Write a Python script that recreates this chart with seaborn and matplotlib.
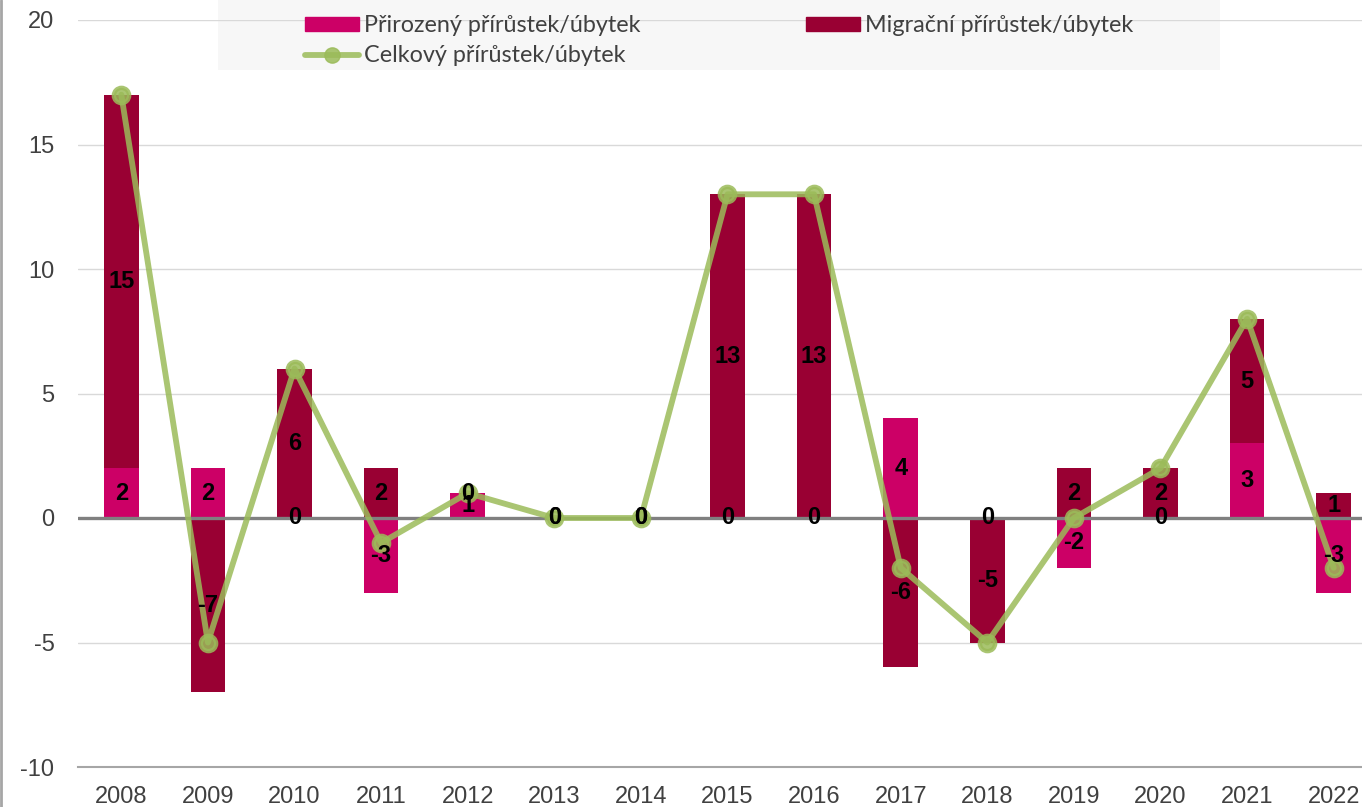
import numpy as np
import pandas as pd
import seaborn as sns
import matplotlib
matplotlib.use("Agg")
from matplotlib import pyplot as plt
from matplotlib.patches import Rectangle, Patch
from matplotlib.lines import Line2D

years = ['2008', '2009', '2010', '2011', '2012', '2013', '2014', '2015',
         '2016', '2017', '2018', '2019', '2020', '2021', '2022']
prirozeny = [2, 2, 0, -3, 1, 0, 0, 0, 0, 4, 0, -2, 0, 3, -3]
migracni = [15, -7, 6, 2, 0, 0, 0, 13, 13, -6, -5, 2, 2, 5, 1]
celkovy = [17, -5, 6, -1, 1, 0, 0, 13, 13, -2, -5, 0, 2, 8, -2]

lbl_prir = 'Přirozený přírůstek/úbytek'
lbl_migr = 'Migrační přírůstek/úbytek'
lbl_celk = 'Celkový přírůstek/úbytek'

c_pink = '#CC0066'
c_dark = '#990033'
c_green = '#9BBB59'

df = pd.DataFrame({'rok': years, 'prir': prirozeny, 'migr': migracni, 'celk': celkovy})
# excel-style stacking: positives on positives, negatives on negatives
df['migr_bottom'] = np.where(df['migr'] >= 0, df['prir'].clip(lower=0), df['prir'].clip(upper=0))

sns.set_style('white')
plt.rcParams['font.family'] = ['Liberation Sans', 'DejaVu Sans']
plt.rcParams['axes.unicode_minus'] = False

fig = plt.figure(figsize=(13.62, 8.07), dpi=100)
ax = fig.add_axes([78 / 1362, 40 / 807, 1299 / 1362, 747 / 807])
ax.patch.set_alpha(0)

sns.barplot(data=df, x='rok', y='prir', color=c_pink, saturation=1, width=0.4,
            errorbar=None, linewidth=0, ax=ax, zorder=2)
sns.barplot(data=df, x='rok', y='migr', color=c_dark, saturation=1, width=0.4,
            errorbar=None, linewidth=0, bottom=df['migr_bottom'].values, ax=ax, zorder=2)
sns.pointplot(data=df, x='rok', y='celk', color=c_green, markers='o', linestyles='-',
              linewidth=4.2, markersize=11, alpha=0.85, ax=ax, zorder=5)

for i, row in df.iterrows():
    ax.text(i, row['prir'] / 2, str(row['prir']), ha='center', va='center',
            fontsize=17, fontweight='bold', color='black', zorder=6)
    ax.text(i, row['migr_bottom'] + row['migr'] / 2, str(row['migr']), ha='center',
            va='center', fontsize=17, fontweight='bold', color='black', zorder=6)

ax.set_ylim(-10, 20)
ax.set_yticks(range(-10, 21, 5))
ax.set_xlim(-0.5, 14.5)
ax.set_xlabel('')
ax.set_ylabel('')
ax.grid(axis='y', color='#D9D9D9', lw=1)
ax.set_axisbelow(True)
ax.axhline(0, color='#808080', lw=2.4, zorder=3)
for s in ['left', 'right', 'top']:
    ax.spines[s].set_visible(False)
ax.spines['bottom'].set_color('#A6A6A6')
ax.spines['bottom'].set_linewidth(1.5)
ax.tick_params(axis='both', length=0, labelsize=17, colors='#404040')
ax.tick_params(axis='y', pad=17)
ax.tick_params(axis='x', pad=14)

# legend box
ax.add_patch(Rectangle((218 / 1362, 1 - 70 / 807), 1002 / 1362, 70 / 807,
                       transform=fig.transFigure, facecolor='#F5F5F5', alpha=0.75,
                       edgecolor='none', clip_on=False, zorder=0.1))
handles = [Patch(color=c_pink),
           Line2D([], [], color=c_green, lw=4.2, marker='o', markersize=11, alpha=0.85),
           Patch(color=c_dark)]
labels = [lbl_prir, lbl_celk, lbl_migr]
fig.legend(handles, labels, ncol=2, loc='upper left',
           bbox_to_anchor=(305 / 1362, 1 - 15 / 807), frameon=False,
           prop={'family': 'Lato', 'size': 16.8}, labelcolor='#404040',
           borderpad=0, borderaxespad=0, handlelength=2.3, handleheight=0.56,
           handletextpad=0.22, columnspacing=7.1, labelspacing=0.4)

fig.add_artist(Line2D([1 / 1362, 1 / 1362], [0, 1], color='#A6A6A6', lw=2,
                      transform=fig.transFigure))

fig.savefig('out.png', dpi=100, facecolor='white')
